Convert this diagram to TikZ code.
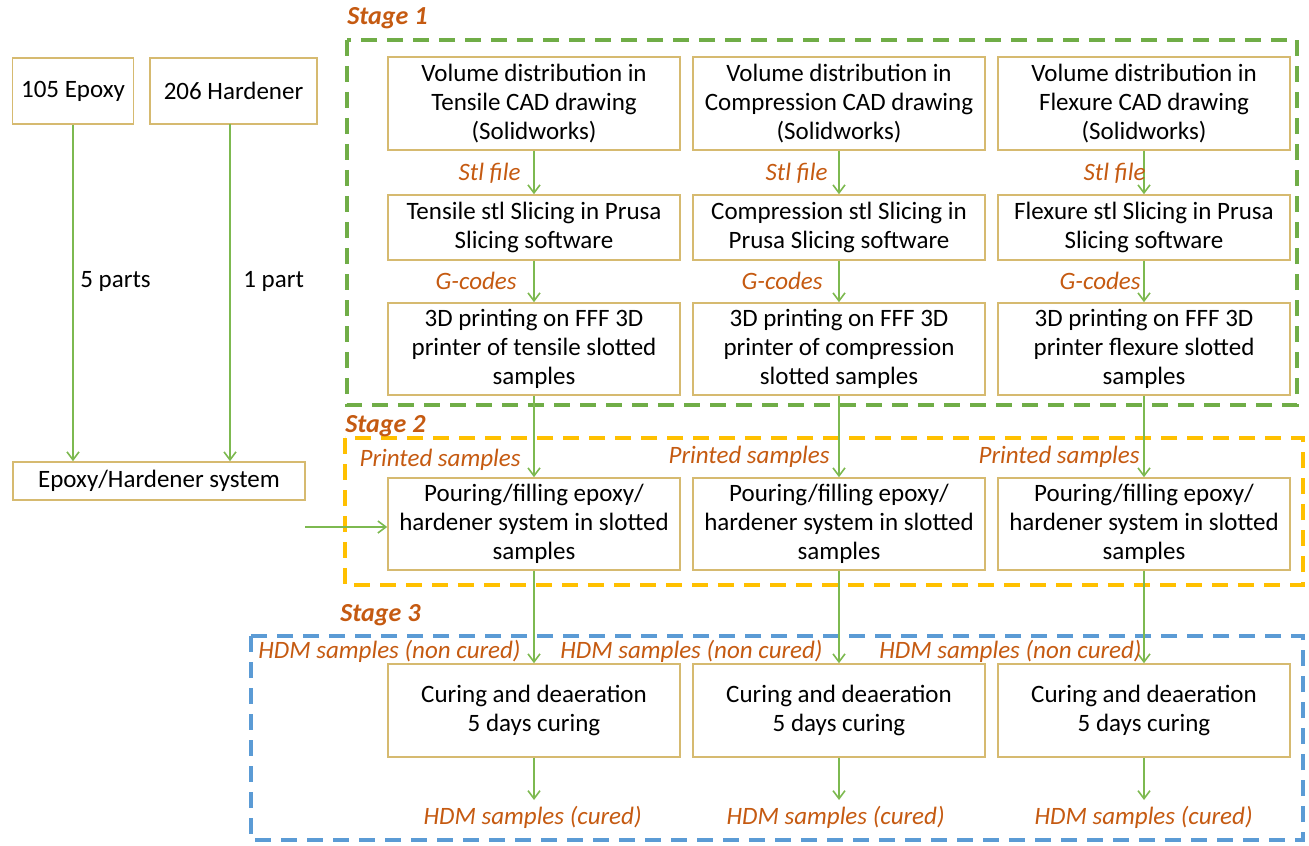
\documentclass[tikz,border=0pt]{standalone}
\usepackage{fontspec}
\setmainfont{Carlito}
\usetikzlibrary{arrows.meta}

\definecolor{boxline}{RGB}{214,186,112}
\definecolor{arrline}{RGB}{125,185,80}
\definecolor{stgone}{RGB}{112,173,71}
\definecolor{stgtwo}{RGB}{255,192,0}
\definecolor{stgthree}{RGB}{91,155,213}
\definecolor{lblcol}{RGB}{197,90,17}

\begin{document}
\begin{tikzpicture}[x=0.5pt,y=-0.5pt,inner sep=0pt,
    font=\fontsize{12.5}{14.5}\selectfont,
    box/.style={draw=boxline,line width=0.8pt,fill=white,align=center,
      minimum width=146pt},
    arr/.style={draw=arrline,line width=0.8pt,
      -{Straight Barb[length=4pt,width=6pt]}},
    lbl/.style={text=lblcol,font=\fontsize{12.5}{14.5}\selectfont\itshape,
      anchor=east},
    stagelbl/.style={text=lblcol,font=\fontsize{13}{15}\selectfont\bfseries\itshape,
      anchor=west},
    frame/.style={line width=2pt,dash pattern=on 8pt off 5pt}]

  % bounding box of the whole figure
  \useasboundingbox (0,0) rectangle (1309,845);

  % stage frames
  \draw[frame,stgone] (347,40) rectangle (1297,405);
  \draw[frame,stgtwo] (345,438) rectangle (1303,585);
  \draw[frame,stgthree] (251,636) rectangle (1303,840);
  \node[stagelbl] (stageA) at (347,18) {Stage 1};
  \node[stagelbl] (stageB) at (345,426) {Stage 2};
  \node[stagelbl] (stageC) at (340,615) {Stage 3};

  % resin and hardener
  \node[box,minimum width=60.5pt,minimum height=33pt] (epoxy) at (73,91) {105 Epoxy};
  \node[box,minimum width=83.5pt,minimum height=33pt] (harden) at (233.5,91) {206 Hardener};
  \node[box,minimum height=19pt] (mixsys) at (159,481) {Epoxy/Hardener system};
  \coordinate (mixout) at (305,527);
  \coordinate (hardout) at (230,124);

  % stage 1: CAD
  \node[box,minimum height=46.5pt] (tensCAD) at (534,103.5)
    {Volume distribution in\\Tensile CAD drawing\\(Solidworks)};
  \node[box,minimum height=46.5pt] (compCAD) at (839,103.5)
    {Volume distribution in\\Compression CAD drawing\\(Solidworks)};
  \node[box,minimum height=46.5pt] (flexCAD) at (1144,103.5)
    {Volume distribution in\\Flexure CAD drawing\\(Solidworks)};

  % stage 1: slicing
  \node[box,minimum height=32.5pt] (tensSlice) at (534,227.5)
    {Tensile stl Slicing in Prusa\\Slicing software};
  \node[box,minimum height=32.5pt] (compSlice) at (839,227.5)
    {Compression stl Slicing in\\Prusa Slicing software};
  \node[box,minimum height=32.5pt] (flexSlice) at (1144,227.5)
    {Flexure stl Slicing in Prusa\\Slicing software};

  % stage 1: printing
  \node[box,minimum height=46pt] (tensPrint) at (534,349)
    {3D printing on FFF 3D\\printer of tensile slotted\\samples};
  \node[box,minimum height=46pt] (compPrint) at (839,349)
    {3D printing on FFF 3D\\printer of compression\\slotted samples};
  \node[box,minimum height=46pt] (flexPrint) at (1144,349)
    {3D printing on FFF 3D\\printer flexure slotted\\samples};

  % stage 2: pouring
  \node[box,minimum height=46pt] (tensPour) at (534,524)
    {Pouring/filling epoxy/\\hardener system in slotted\\samples};
  \node[box,minimum height=46pt] (compPour) at (839,524)
    {Pouring/filling epoxy/\\hardener system in slotted\\samples};
  \node[box,minimum height=46pt] (flexPour) at (1144,524)
    {Pouring/filling epoxy/\\hardener system in slotted\\samples};

  % stage 3: curing
  \node[box,minimum height=46.5pt] (tensCure) at (534,710.5)
    {Curing and deaeration\\5 days curing};
  \node[box,minimum height=46.5pt] (compCure) at (839,710.5)
    {Curing and deaeration\\5 days curing};
  \node[box,minimum height=46.5pt] (flexCure) at (1144,710.5)
    {Curing and deaeration\\5 days curing};
  \coordinate (tensEnd) at (534,800);
  \coordinate (compEnd) at (839,800);
  \coordinate (flexEnd) at (1144,800);

  % connectors
  \draw[arr] (epoxy.south) -- (epoxy.south |- mixsys.north);
  \draw[arr] (hardout) -- (hardout |- mixsys.north);
  \draw[arr] (mixout) -- (mixout -| tensPour.west);
  \draw[arr] (tensCAD) -- (tensSlice);
  \draw[arr] (compCAD) -- (compSlice);
  \draw[arr] (flexCAD) -- (flexSlice);
  \draw[arr] (tensSlice) -- (tensPrint);
  \draw[arr] (compSlice) -- (compPrint);
  \draw[arr] (flexSlice) -- (flexPrint);
  \draw[arr] (tensPrint) -- (tensPour);
  \draw[arr] (compPrint) -- (compPour);
  \draw[arr] (flexPrint) -- (flexPour);
  \draw[arr] (tensPour) -- (tensCure);
  \draw[arr] (compPour) -- (compCure);
  \draw[arr] (flexPour) -- (flexCure);
  \draw[arr] (tensCure) -- (tensEnd);
  \draw[arr] (compCure) -- (compEnd);
  \draw[arr] (flexCure) -- (flexEnd);

  % connector labels
  \node[anchor=west] (fiveParts) at (80,281) {5 parts};
  \node[anchor=west] (onePart) at (243,281) {1 part};
  \node[lbl] (stlA) at (521,173) {Stl file};
  \node[lbl] (stlB) at (828,173) {Stl file};
  \node[lbl] (stlC) at (1146,173) {Stl file};
  \node[lbl] (gcodeA) at (517,281) {G-codes};
  \node[lbl] (gcodeB) at (823,281) {G-codes};
  \node[lbl] (gcodeC) at (1141,281) {G-codes};
  \node[lbl] (printA) at (521,460) {Printed samples};
  \node[lbl] (printB) at (830,457) {Printed samples};
  \node[lbl] (printC) at (1140,457) {Printed samples};
  \node[lbl] (wetA) at (521,651) {HDM samples (non cured)};
  \node[lbl] (wetB) at (823,651) {HDM samples (non cured)};
  \node[lbl] (wetC) at (1142,651) {HDM samples (non cured)};
  \node[lbl] (dryA) at (642,817) {HDM samples (cured)};
  \node[lbl] (dryB) at (945,817) {HDM samples (cured)};
  \node[lbl] (dryC) at (1253,817) {HDM samples (cured)};
\end{tikzpicture}
\end{document}
